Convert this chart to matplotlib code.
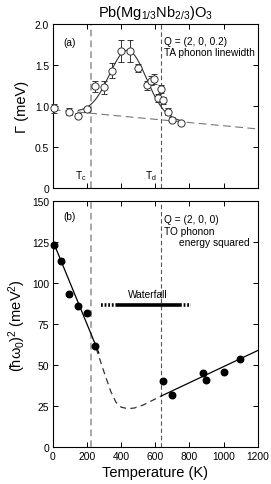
import numpy as np
import matplotlib
matplotlib.use("Agg")
import matplotlib.pyplot as plt

plt.rcParams['font.family'] = ['Liberation Sans', 'DejaVu Sans']
plt.rcParams['mathtext.fontset'] = 'custom'
plt.rcParams['mathtext.rm'] = 'Liberation Sans'
plt.rcParams['mathtext.it'] = 'Liberation Sans:italic'

# ---- Panel (a): TA phonon linewidth ----
temp_a = [10, 97, 150, 199, 248, 298, 347, 400, 453, 501, 552, 574, 595, 618, 634, 648, 673, 700, 751]
gamma_a = [0.97, 0.93, 0.88, 0.96, 1.24, 1.23, 1.43, 1.67, 1.67, 1.46, 1.25, 1.31, 1.33, 1.10, 1.21, 1.07, 0.93, 0.83, 0.79]
gamma_err = [0.06, 0.04, 0.03, 0.03, 0.07, 0.08, 0.09, 0.13, 0.13, 0.05, 0.06, 0.05, 0.06, 0.05, 0.05, 0.04, 0.04, 0.03, 0.02]
# linear background (dashed): endpoints
bg_T = [0, 1200]
bg_val = [0.955, 0.72]
# gaussian fit parameters (center, sigma, amplitude) and fit range
fit_center, fit_sigma, fit_amp = 440, 108, 0.81
fit_range = [150, 760]

# ---- Panel (b): TO phonon energy squared ----
temp_b = [10, 49, 98, 150, 199, 250, 648, 699, 878, 900, 1000, 1097]
omega2_b = [123.2, 113.6, 93.4, 86.3, 81.6, 62.0, 40.4, 31.8, 45.3, 41.2, 45.7, 53.6]
low_line_T = [10, 270]
low_line_v = [123.5, 57.5]
dash_T = [254, 300, 340, 370, 400, 440, 480, 530, 580, 636]
dash_v = [60.5, 46.0, 34.0, 27.5, 24.5, 23.5, 24.0, 25.8, 28.4, 31.3]
high_line_T = [636, 1200]
high_line_v = [31.3, 59.0]

Tc, Td = 225, 635
waterfall_y = 86.5
waterfall_solid = [372, 744]
waterfall_dot_left = [284, 372]
waterfall_dot_right = [744, 812]

fig = plt.figure(figsize=(2.71, 4.85), dpi=100)
ax1 = fig.add_axes([0.1945, 0.6103, 0.7565, 0.3382])
ax2 = fig.add_axes([0.1945, 0.0757, 0.7565, 0.5072])

tick_fs = 7.4
ann_fs = 7.3
for ax in (ax1, ax2):
    ax.tick_params(direction='in', top=True, right=True, length=3.5, width=0.7, labelsize=tick_fs, pad=2.5)
    for s in ax.spines.values():
        s.set_linewidth(0.8)
    ax.set_xlim(0, 1200)
    ax.set_xticks(np.arange(0, 1201, 200))
    ax.axvline(Tc, color='#9a9a9a', lw=1.2, ls=(0, (4, 2.5)), zorder=1)
    ax.axvline(Td, color='#555555', lw=0.8, ls=(0, (4, 2.5)), zorder=1)

# Panel a
ax1.set_ylim(0, 2.0)
ax1.set_yticks([0, 0.5, 1.0, 1.5, 2.0])
ax1.set_yticklabels(['0', '0.5', '1.0', '1.5', '2.0'])
ax1.set_xticklabels([])
ax1.plot(bg_T, bg_val, color='#777777', lw=0.8, ls=(0, (7, 4)), zorder=2)
tt = np.linspace(fit_range[0], fit_range[1], 300)
bg_interp = np.interp(tt, bg_T, bg_val)
ax1.plot(tt, bg_interp + fit_amp * np.exp(-(tt - fit_center) ** 2 / (2 * fit_sigma ** 2)),
         color='#333333', lw=0.8, zorder=3)
eb = ax1.errorbar(temp_a, gamma_a, yerr=gamma_err, fmt='o', mfc='white', mec='#333333',
                  ms=5.2, mew=0.7, ecolor='#333333', elinewidth=0.7, capsize=2.2, capthick=0.7, zorder=4)
for art in eb.lines[0:1] + tuple(eb.lines[1]) + tuple(eb.lines[2]):
    if art is not None:
        art.set_clip_on(False)
ax1.set_ylabel('Γ (meV)', fontsize=10.5, labelpad=4)
ax1.text(60, 1.78, '(a)', fontsize=ann_fs, ha='left', va='center')
ax1.text(650, 1.79, 'Q = (2, 0, 0.2)', fontsize=ann_fs, ha='left', va='center')
ax1.text(650, 1.66, 'TA phonon linewidth', fontsize=ann_fs, ha='left', va='center')
ax1.text(200, 0.16, r'T$_\mathregular{c}$', fontsize=ann_fs, ha='right', va='center')
ax1.text(610, 0.16, r'T$_\mathregular{d}$', fontsize=ann_fs, ha='right', va='center')
ax1.set_title(r'Pb(Mg$_\mathregular{1/3}$Nb$_\mathregular{2/3}$)O$_\mathregular{3}$', fontsize=10.5, pad=6)

# Panel b
ax2.set_ylim(0, 150)
ax2.set_yticks([0, 25, 50, 75, 100, 125, 150])
ax2.plot(low_line_T, low_line_v, color='black', lw=0.9, zorder=3)
ax2.plot(dash_T, dash_v, color='#333333', lw=0.9, ls=(0, (5, 3.5)), zorder=3)
ax2.plot(high_line_T, high_line_v, color='black', lw=0.9, zorder=3)
ax2.plot(temp_b, omega2_b, 'o', color='black', ms=4.7, zorder=4, clip_on=False)
ax2.plot(waterfall_solid, [waterfall_y] * 2, color='black', lw=2.6, solid_capstyle='butt')
ax2.plot(waterfall_dot_left, [waterfall_y] * 2, color='black', lw=2.6, ls=(0, (0.5, 0.5)))
ax2.plot(waterfall_dot_right, [waterfall_y] * 2, color='black', lw=2.6, ls=(0, (0.5, 0.5)))
ax2.text(558, 90.5, 'Waterfall', fontsize=ann_fs, ha='center', va='bottom')
ax2.text(60, 141, '(b)', fontsize=ann_fs, ha='left', va='center')
ax2.text(650, 139, 'Q = (2, 0, 0)', fontsize=ann_fs, ha='left', va='center')
ax2.text(650, 132, 'TO phonon', fontsize=ann_fs, ha='left', va='center')
ax2.text(1150, 125, 'energy squared', fontsize=ann_fs, ha='right', va='center')
ax2.set_xlabel('Temperature (K)', fontsize=10.5, labelpad=3)
ax2.set_ylabel(r'(ħω$_\mathregular{0}$)$^\mathregular{2}$ (meV$^\mathregular{2}$)', fontsize=10.5, labelpad=3)

fig.savefig('out.png', dpi=100)
